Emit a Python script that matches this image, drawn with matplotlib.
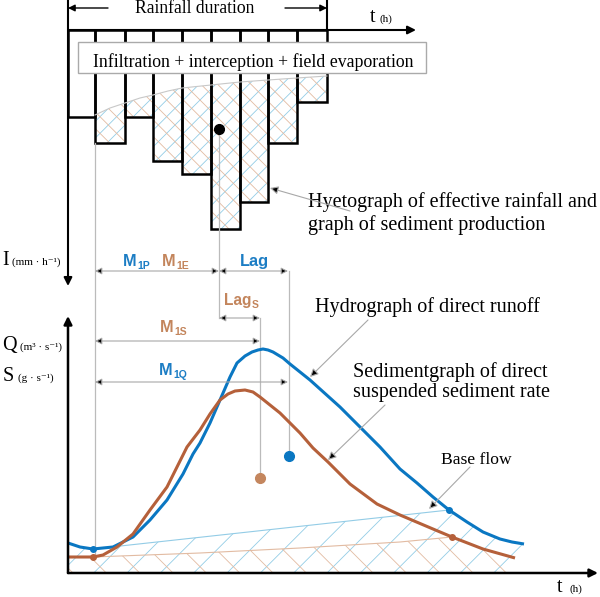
import numpy as np
import matplotlib.pyplot as plt
from matplotlib.patches import Rectangle

plt.rcParams['font.family'] = ['Liberation Serif', 'DejaVu Serif']
plt.rcParams['hatch.linewidth'] = 0.6

# Everything is laid out on the drawing's own canvas (x to the right, y downwards)

# --- hyetograph (top) ---
t_edges = [68, 95, 125, 153, 182, 211, 240, 268, 297, 327]
rain_depth = [117, 143, 117, 161, 174, 229, 202, 143, 102]
t_axis_y = 30
loss_x = [95, 110, 125, 140, 153, 168, 182, 211, 240, 268, 297, 327]
loss_y = [115, 108, 103, 98, 95, 91, 88, 85, 82, 80, 78, 76]
rain_centroid = (219, 129)

# --- hydrograph Q and sedimentgraph S (bottom) ---
q_x = [68, 80, 93, 113, 133, 150, 167, 183, 193, 200, 210, 220, 230, 237, 245, 252,
       258, 263, 268, 273, 283, 290, 310, 340, 360, 380, 400, 417, 433, 449, 467, 483,
       500, 512, 524]
q_y = [543, 547, 549, 547, 537, 520, 500, 474, 454, 443, 423, 400, 377, 363, 356, 352,
       350, 349, 350, 352, 358, 364, 380, 407, 427, 447, 469, 483, 497, 510, 522, 532,
       539, 542, 544]
s_x = [68, 93, 103, 117, 133, 150, 167, 187, 200, 210, 220, 228, 235, 245, 253, 260,
       280, 300, 313, 328, 350, 377, 400, 433, 452, 483, 515]
s_y = [557, 557, 555, 547, 534, 510, 487, 447, 430, 414, 400, 394, 391, 390, 392, 397,
       413, 433, 448, 462, 484, 504, 515, 529, 537, 549, 558]
base_q_x = [93, 449]
base_q_y = [549, 510]
base_s_x = [93, 200, 300, 400, 452]
base_s_y = [557, 553, 548, 542, 537]
q_centroid = (289, 456)
s_centroid = (260, 478)
ground_y = 573

BLUE = '#0A77C2'
BROWN = '#B5603A'
LBLUE = '#1C7DC4'
LBROWN = '#C3855C'
DOT_BROWN = '#C4865E'
HBLUE = '#93CCE6'
HBROWN = '#E2BBA2'
GREY = '#BBBBBB'

fig = plt.figure(figsize=(6, 5.97), dpi=100)
ax = fig.add_axes([0, 0, 1, 1])
ax.set_xlim(0, 600)
ax.set_ylim(597, 0)
ax.axis('off')


def arrow(tail, tip, color='black', lw=1.5, style='-|>', ms=12, fc=None):
    ax.annotate('', xy=tip, xytext=tail,
                arrowprops=dict(arrowstyle=style, color=color, lw=lw, mutation_scale=ms,
                                shrinkA=0, shrinkB=0, fc=fc if fc else color))


def dim(x0, x1, y):
    arrow((x0, y), (x1, y), color='#A8A8A8', lw=0.8, style='<|-|>', ms=10, fc='black')


def pointer(tail, tip):
    arrow(tail, tip, color='#A8A8A8', lw=0.8, ms=12, fc='black')


# hatched effective rainfall area
edges = np.array(t_edges)
depth = np.array(rain_depth)
step_x, step_y = [], []
for i in range(len(depth) - 1, 0, -1):
    step_x += [edges[i + 1], edges[i]]
    step_y += [depth[i], depth[i]]
poly_x = list(loss_x) + step_x
poly_y = list(loss_y) + step_y
ax.fill(poly_x, poly_y, facecolor='none', edgecolor=HBLUE, hatch='//', lw=0)
ax.fill(poly_x, poly_y, facecolor='none', edgecolor=HBROWN, hatch='\\\\', lw=0)
ax.plot(loss_x, loss_y, color='#C8C8C8', lw=0.8)

# hyetograph bars
ax.bar(edges[:-1], depth - t_axis_y, width=np.diff(edges), bottom=t_axis_y,
       align='edge', fill=False, edgecolor='black', lw=1.8)
ax.plot([t_edges[-1], t_edges[-1]], [0, t_axis_y], color='black', lw=1.5)
arrow((t_edges[0], t_axis_y), (416, t_axis_y), lw=1.5)
arrow((t_edges[0], 0), (t_edges[0], 286), lw=1.5)
arrow((108, 8), (t_edges[0], 8), lw=1.0, ms=10)
arrow((285, 8), (t_edges[-1], 8), lw=1.0, ms=10)
ax.text(135, 13, 'Rainfall duration', fontsize=12.7)

ax.add_patch(Rectangle((78, 42), 348, 31, facecolor='white', edgecolor='#AAAAAA', lw=1.0))
ax.text(253, 67, 'Infiltration + interception + field evaporation', fontsize=12.8,
        ha='center')

# guide lines
ax.plot([95, 95], [143, 557], color=GREY, lw=0.9)
ax.plot([rain_centroid[0]] * 2, [rain_centroid[1], 318], color=GREY, lw=0.9)
ax.plot([s_centroid[0]] * 2, [318, s_centroid[1]], color=GREY, lw=0.9)
ax.plot([q_centroid[0]] * 2, [271, q_centroid[1]], color=GREY, lw=0.9)
ax.plot(*rain_centroid, 'o', color='black', ms=7)

# dimension arrows
dim(95, 219, 271)
dim(219, 288, 271)
dim(219, 260, 318)
dim(95, 260, 341)
dim(95, 288, 382)


def bold_label(x, y, main, sub, color, dx=14, size=11.8):
    ax.text(x, y, main, fontsize=size, fontweight='bold', color=color,
            family='Liberation Sans')
    ax.text(x + dx, y + 3, sub, fontsize=7.5, fontweight='bold', color=color,
            family='Liberation Sans')


bold_label(123, 266, 'M', '1P', LBLUE)
bold_label(162, 266, 'M', '1E', LBROWN)
ax.text(240, 266, 'Lag', fontsize=11.8, fontweight='bold', color=LBLUE, family='Liberation Sans')
bold_label(224, 305, 'Lag', 'S', LBROWN, dx=28, size=11.2)
bold_label(160, 332, 'M', '1S', LBROWN)
bold_label(159, 375, 'M', '1Q', LBLUE)

# lower base-flow hatching
q_x_a, q_y_a = np.array(q_x), np.array(q_y)
s_x_a, s_y_a = np.array(s_x), np.array(s_y)
bq_x = list(q_x_a[q_x_a < 93]) + base_q_x + list(q_x_a[q_x_a > 449]) + [524, 68]
bq_y = list(q_y_a[q_x_a < 93]) + base_q_y + list(q_y_a[q_x_a > 449]) + [ground_y, ground_y]
bs_x = list(s_x_a[s_x_a < 93]) + base_s_x + list(s_x_a[s_x_a > 452]) + [515, 68]
bs_y = list(s_y_a[s_x_a < 93]) + base_s_y + list(s_y_a[s_x_a > 452]) + [ground_y, ground_y]
ax.fill(bq_x, bq_y, facecolor='none', edgecolor=HBLUE, hatch='/', lw=0)
ax.fill(bs_x, bs_y, facecolor='none', edgecolor=HBROWN, hatch='\\', lw=0)
ax.plot(base_q_x, base_q_y, color=HBLUE, lw=0.8)
ax.plot(base_s_x, base_s_y, color=HBROWN, lw=0.8)

# curves
ax.plot(q_x, q_y, color=BLUE, lw=2.2, solid_capstyle='butt', solid_joinstyle='round')
ax.plot(s_x, s_y, color=BROWN, lw=2.2, solid_capstyle='butt', solid_joinstyle='round')
ax.plot([base_q_x[0], base_q_x[-1]], [base_q_y[0], base_q_y[-1]], 'o', color=BLUE, ms=4)
ax.plot([base_s_x[0], base_s_x[-1]], [base_s_y[0], base_s_y[-1]], 'o', color=BROWN, ms=4)
ax.plot(*q_centroid, 'o', color=BLUE, ms=7)
ax.plot(*s_centroid, 'o', color=DOT_BROWN, ms=7)

# lower axes
arrow((68, ground_y), (598, ground_y), lw=1.8)
arrow((68, ground_y), (68, 316), lw=1.8)

# axis labels
ax.text(370, 22, 't', fontsize=14.5)
ax.text(380, 22, '(h)', fontsize=8)
ax.text(557, 592, 't', fontsize=14.5)
ax.text(569, 592, '(h)', fontsize=8)
ax.text(2, 265, 'I', fontsize=14.5)
ax.text(12, 265, '(mm · h⁻¹)', fontsize=8)
ax.text(2, 350, 'Q', fontsize=14.5)
ax.text(20, 350, '(m³ · s⁻¹)', fontsize=8)
ax.text(3, 381, 'S', fontsize=14.5)
ax.text(18, 381, '(g · s⁻¹)', fontsize=8)

# annotations
ax.text(308, 207, 'Hyetograph of effective rainfall and', fontsize=14.5)
ax.text(308, 230, 'graph of sediment production', fontsize=14.5)
pointer((350, 211), (270, 188))
ax.text(315, 312, 'Hydrograph of direct runoff', fontsize=14.5)
pointer((368, 320), (310, 377))
ax.text(353, 377, 'Sedimentgraph of direct', fontsize=14.5)
ax.text(353, 397, 'suspended sediment rate', fontsize=14.5)
pointer((385, 405), (328, 460))
ax.text(441, 464, 'Base flow', fontsize=12.6)
pointer((470, 467), (429, 509))

fig.savefig('out.png', dpi=100)
